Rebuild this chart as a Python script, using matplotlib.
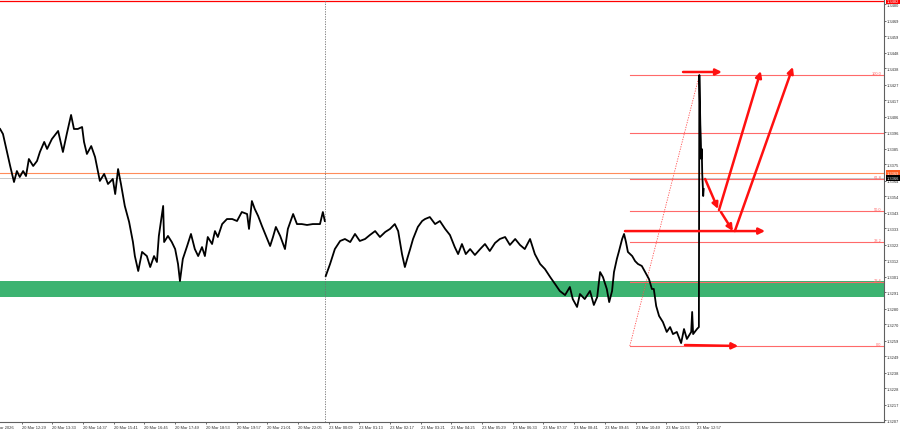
"""GBP/USD M1: Fibonacci levels and arrows after a price spike"""
import matplotlib.pyplot as plt
import matplotlib.transforms as mtransforms

# Friday bars (bar index from 20 Mar 11:25) and close prices
friday_bars = [19, 25, 33, 40, 48, 54, 60, 67, 73, 79, 88, 96, 102, 111, 117,
               127, 140, 150, 158, 167, 173, 181, 190, 194, 200, 209, 217, 227,
               236, 244, 254, 259, 265, 271, 279, 288, 296, 300, 307, 315, 325,
               332, 340, 346, 350, 359, 361, 369, 377, 384, 390, 394, 400, 409,
               417, 425, 432, 440, 446, 452, 461, 467, 473, 482, 492, 503, 513,
               523, 534, 538, 544, 550, 557, 565, 576, 582, 588, 594, 603, 613,
               619, 630, 638, 648, 659, 671, 686, 692, 696]
friday_prices = [1.33980, 1.33947, 1.33835, 1.33737, 1.33632, 1.33704, 1.33665,
                 1.33704, 1.33671, 1.33783, 1.33737, 1.33770, 1.33829, 1.33895,
                 1.33849, 1.33914, 1.33967, 1.33829, 1.33947, 1.34072, 1.33980,
                 1.33980, 1.33993, 1.33895, 1.33816, 1.33868, 1.33796, 1.33639,
                 1.33685, 1.33619, 1.33652, 1.33553, 1.33717, 1.33619, 1.33475,
                 1.33370, 1.33238, 1.33146, 1.33048, 1.33173, 1.33146, 1.33074,
                 1.33146, 1.33107, 1.33278, 1.33475, 1.33238, 1.33278, 1.33238,
                 1.33192, 1.33094, 1.32982, 1.33127, 1.33212, 1.33291, 1.33192,
                 1.33146, 1.33205, 1.33146, 1.33271, 1.33225, 1.33310, 1.33271,
                 1.33356, 1.33389, 1.33389, 1.33376, 1.33435, 1.33422, 1.33324,
                 1.33507, 1.33455, 1.33409, 1.33343, 1.33258, 1.33212, 1.33271,
                 1.33337, 1.33278, 1.33192, 1.33324, 1.33422, 1.33356, 1.33356,
                 1.33350, 1.33356, 1.33356, 1.33435, 1.33376]

# Monday bars and close prices
monday_bars = [698, 707, 717, 728, 738, 749, 759, 769, 780, 790, 801, 811, 822,
               832, 842, 849, 857, 863, 869, 874, 880, 890, 899, 905, 915, 926,
               936, 947, 957, 967, 974, 982, 990, 999, 1009, 1020, 1030, 1040,
               1051, 1061, 1072, 1082, 1093, 1103, 1113, 1124, 1134, 1145, 1155,
               1166, 1176, 1186, 1197, 1207, 1213, 1222, 1228, 1238, 1249, 1257,
               1264, 1270, 1276, 1284, 1289, 1295, 1299, 1305, 1309, 1316, 1320,
               1324, 1328, 1337, 1343, 1349, 1357, 1364, 1372, 1378, 1382, 1387,
               1393, 1401, 1409, 1416, 1422, 1430, 1439, 1445, 1451, 1460, 1462,
               1464, 1472, 1476, 1477, 1478, 1479, 1480, 1481, 1482, 1483, 1484,
               1485, 1486]
monday_prices = [1.33015, 1.33094, 1.33192, 1.33245, 1.33258, 1.33238, 1.33291,
                 1.33245, 1.33258, 1.33284, 1.33310, 1.33271, 1.33304, 1.33324,
                 1.33356, 1.33310, 1.33159, 1.33074, 1.33140, 1.33192, 1.33258,
                 1.33337, 1.33376, 1.33389, 1.33402, 1.33356, 1.33376, 1.33324,
                 1.33284, 1.33205, 1.33159, 1.33225, 1.33159, 1.33192, 1.33153,
                 1.33192, 1.33225, 1.33179, 1.33232, 1.33258, 1.33271, 1.33219,
                 1.33258, 1.33219, 1.33192, 1.33258, 1.33159, 1.33094, 1.33061,
                 1.33008, 1.32963, 1.32917, 1.32890, 1.32943, 1.32864, 1.32812,
                 1.32897, 1.32864, 1.32917, 1.32825, 1.32877, 1.33041, 1.33008,
                 1.32930, 1.32844, 1.32917, 1.33041, 1.33127, 1.33173, 1.33258,
                 1.33291, 1.33238, 1.33173, 1.33146, 1.33113, 1.33094, 1.33081,
                 1.33041, 1.32995, 1.32930, 1.32930, 1.32818, 1.32753, 1.32713,
                 1.32648, 1.32680, 1.32634, 1.32648, 1.32575, 1.32667, 1.32602,
                 1.32648, 1.32779, 1.32634, 1.32667, 1.32680, 1.34334, 1.34177,
                 1.34013, 1.33914, 1.33783, 1.33849, 1.33685, 1.33619, 1.33540,
                 1.33586]

time_labels = ["20 Mar 2026", "20 Mar 12:29", "20 Mar 13:33", "20 Mar 14:37",
               "20 Mar 15:41", "20 Mar 16:45", "20 Mar 17:49", "20 Mar 18:53",
               "20 Mar 19:57", "20 Mar 21:01", "20 Mar 22:05", "23 Mar 00:09",
               "23 Mar 01:13", "23 Mar 02:17", "23 Mar 03:21", "23 Mar 04:25",
               "23 Mar 05:29", "23 Mar 06:33", "23 Mar 07:37", "23 Mar 08:41",
               "23 Mar 09:45", "23 Mar 10:49", "23 Mar 11:53", "23 Mar 12:57"]
bars_per_label = 64

price_ticks = [1.3207, 1.3217, 1.3228, 1.3238, 1.3249, 1.3259, 1.3270, 1.3280,
               1.3291, 1.3301, 1.3312, 1.3322, 1.3333, 1.3343, 1.3354, 1.3364,
               1.3375, 1.3385, 1.3396, 1.3406, 1.3417, 1.3427, 1.3438, 1.3448,
               1.3459, 1.3469, 1.3480]

# Fibonacci grid: anchors and levels
fib_start_bar = 1332
fib_low = 1.32556
fib_high = 1.34334
fib_levels = [0.0, 0.236, 0.382, 0.5, 0.618, 0.786, 1.0]
fib_texts = ["0.0", "23.6", "38.2", "50.0", "61.8", "", "100.0"]

support_zone = (1.32877, 1.32982)
alert_price = 1.34820
orange_price = 1.33691
bid_price = 1.33658
week_split_bar = 696

# Arrows: (bar from, price from, bar to, price to)
arrows = [
    (1443, 1.34354, 1524, 1.34354),
    (1489, 1.33652, 1516, 1.33455),
    (1518, 1.33448, 1605, 1.34360),
    (1522, 1.33435, 1547, 1.33310),
    (1551, 1.33310, 1672, 1.34387),
    (1322, 1.33310, 1614, 1.33310),
    (1447, 1.32562, 1558, 1.32556),
]

FS = 2.9
FONT = "Liberation Sans"
FIB_COLOR = "#FF6A6A"
plt.rcParams["font.family"] = FONT


def draw_levels(ax):
    """Horizontal lines, zone and Fibonacci grid"""
    ax.axhspan(*support_zone, color="#3CB371", lw=0, zorder=1)
    ax.axhline(alert_price, color="red", lw=0.9, zorder=2)
    ax.axhline(orange_price, color="#FF8C5A", lw=0.8, zorder=2)
    ax.axhline(bid_price, color="#C8C8C8", lw=0.7, zorder=2)
    ax.axvline(week_split_bar, color="#707070", lw=0.6, ls=(0, (1.5, 1.5)), zorder=2)

    right = ax.get_xlim()[1]
    trans = mtransforms.blended_transform_factory(ax.transAxes, ax.transData)
    for level, text in zip(fib_levels, fib_texts):
        price = fib_low + (fib_high - fib_low) * level
        ax.plot([fib_start_bar, right], [price, price], color=FIB_COLOR, lw=0.8, zorder=2)
        if text:
            ax.text(0.997, price, text, transform=trans, ha="right", va="bottom",
                    fontsize=FS, color=FIB_COLOR)
    # dotted diagonal of the Fibonacci tool
    ax.plot([fib_start_bar, 1477], [fib_low, fib_high], color="#FF5050", lw=0.6,
            ls=(0, (1.5, 1.5)), zorder=2)


def draw_arrows(ax):
    """Red arrows of the forecast"""
    for x0, y0, x1, y1 in arrows:
        ax.annotate("", xy=(x1, y1), xytext=(x0, y0),
                    arrowprops=dict(arrowstyle="-|>", color="#FF1010", lw=1.8,
                                    mutation_scale=9, shrinkA=0, shrinkB=0),
                    zorder=5)


def axis_settings(ax):
    """Axis and labels as in the terminal"""
    ax.set_xlim(18.8, 1862)
    ax.set_ylim(1.32057, 1.34833)
    for side in ("top", "left"):
        ax.spines[side].set_visible(False)
    for side in ("right", "bottom"):
        ax.spines[side].set_color("#606060")
        ax.spines[side].set_linewidth(0.8)

    ax.yaxis.tick_right()
    ax.set_yticks(price_ticks)
    ax.set_yticklabels([f"{p:.4f}" for p in price_ticks])
    ax.tick_params(axis="y", labelsize=FS, length=1.5, width=0.5, pad=0.8,
                   colors="#303030")

    positions = [i * bars_per_label for i in range(len(time_labels))]
    ax.set_xticks(positions[1:])
    ax.set_xticklabels(time_labels[1:], ha="left")
    ax.tick_params(axis="x", labelsize=FS, length=1.5, width=0.5, pad=0.8,
                   colors="#303030")
    trans = mtransforms.blended_transform_factory(ax.transData, ax.transAxes)
    ax.text(positions[0], -0.006, time_labels[0], transform=trans, ha="left",
            va="top", fontsize=FS, color="#303030", clip_on=False)

    # price boxes on the right scale
    trans = mtransforms.blended_transform_factory(ax.transAxes, ax.transData)
    for price, color in ((alert_price, "red"), (orange_price, "#FF5A1E"),
                         (bid_price, "black")):
        ax.text(1.003, price, f"{price:.4f}", transform=trans, ha="left",
                va="center", fontsize=FS, color="white", clip_on=False,
                bbox=dict(boxstyle="square,pad=0.25", fc=color, ec="none"))


fig = plt.figure(figsize=(9, 4.31), dpi=100)
ax = fig.add_axes([0, 8 / 431, 884 / 900, 423 / 431])
axis_settings(ax)
draw_levels(ax)
ax.plot(friday_bars, friday_prices, color="black", lw=1.3, zorder=4)
ax.plot(monday_bars, monday_prices, color="black", lw=1.3, zorder=4)
draw_arrows(ax)
fig.savefig("out.png", dpi=100)
